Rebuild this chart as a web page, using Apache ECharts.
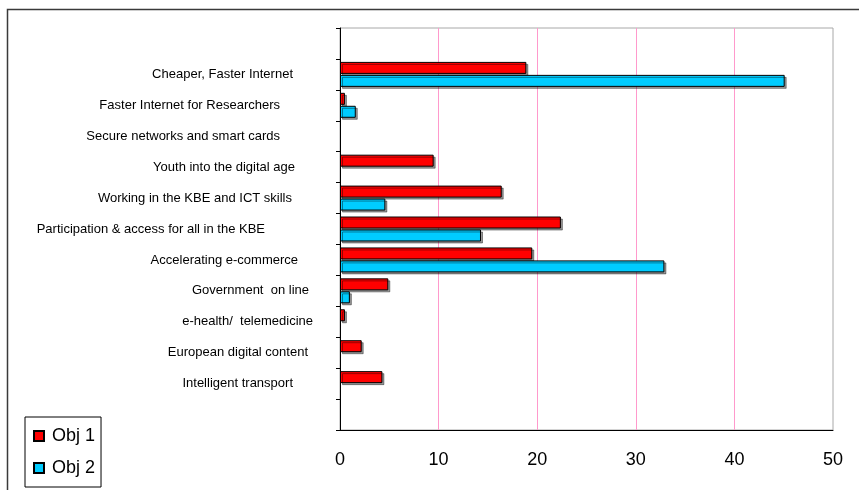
<!DOCTYPE html>
<html>
<head>
<meta charset="utf-8">
<script src="https://cdn.jsdelivr.net/npm/echarts@6/dist/echarts.min.js"></script>
<style>
  html, body { margin: 0; padding: 0; background: #fff; }
  #chart { width: 859px; height: 490px; }
</style>
</head>
<body>
<div id="chart"></div>
<script>
// Action lines (top to bottom); blank slots pad the first and last bands
const categories = [
  '',
  'Cheaper, Faster Internet',
  'Faster Internet for Researchers',
  'Secure networks and smart cards',
  'Youth into the digital age',
  'Working in the KBE and ICT skills',
  'Participation & access for all in the KBE',
  'Accelerating e-commerce',
  'Government  on line',
  'e-health/  telemedicine',
  'European digital content',
  'Intelligent transport',
  ''
];

const obj1 = [null, 18.9, 0.5, null, 9.5, 16.4, 22.4, 19.5, 4.9, 0.5, 2.2, 4.3, null];
const obj2 = [null, 45.1, 1.6, null, null, 4.6, 14.3, 32.9, 1.0, null, null, null, null];

const seriesNames = ['Obj 1', 'Obj 2'];
const xTicks = { min: 0, max: 50, step: 10 };

// Distance of each category label's right end from the axis line
const labelGaps = [0, 47, 60, 60, 45, 48, 75, 42, 31, 27, 32, 47, 0];

const FONT = 'Liberation Sans, Arial, sans-serif';

const rich = {};
labelGaps.forEach((g, i) => {
  rich['g' + i] = {
    fontFamily: FONT,
    fontSize: 13,
    color: '#000',
    padding: [0, g, 0, 0]
  };
});

const barStyle = (color) => ({
  color: color,
  borderColor: '#000',
  borderWidth: 1,
  shadowColor: 'rgba(0,0,0,0.4)',
  shadowBlur: 0,
  shadowOffsetX: 2,
  shadowOffsetY: 2
});

const chart = echarts.init(document.getElementById('chart'), null, { renderer: 'canvas' });

chart.setOption({
  animation: false,
  backgroundColor: '#fff',
  graphic: [{
    type: 'rect',
    shape: { x: 7.5, y: 9.5, width: 900, height: 520 },
    style: { fill: 'none', stroke: '#3a3a3a', lineWidth: 1.5 },
    z: -1
  }],
  grid: {
    left: 340,
    right: 26,
    top: 28,
    bottom: 60,
    outerBoundsMode: 'none',
    show: true,
    borderColor: '#a8a8a8',
    borderWidth: 1,
    backgroundColor: '#fff'
  },
  legend: {
    data: seriesNames,
    orient: 'vertical',
    left: 25,
    top: 417,
    itemWidth: 10,
    itemHeight: 10,
    itemGap: 14,
    padding: [10, 6, 10, 8],
    borderColor: '#000',
    borderWidth: 1,
    backgroundColor: '#fff',
    icon: 'rect',
    textStyle: { fontFamily: FONT, fontSize: 18, color: '#000', padding: [0, 0, 0, 3] }
  },
  xAxis: {
    type: 'value',
    min: xTicks.min,
    max: xTicks.max,
    interval: xTicks.step,
    axisLine: { show: true, lineStyle: { color: '#000', width: 1 } },
    axisTick: { show: false },
    axisLabel: { fontFamily: FONT, fontSize: 18, color: '#000', margin: 21 },
    splitLine: {
      show: true,
      showMinLine: false,
      showMaxLine: false,
      lineStyle: { color: '#ff99cc', width: 1 }
    }
  },
  yAxis: {
    type: 'category',
    inverse: true,
    data: categories,
    axisLine: { show: true, lineStyle: { color: '#000', width: 1 } },
    axisTick: { show: true, length: 4, lineStyle: { color: '#000' } },
    axisLabel: {
      margin: 0,
      interval: 0,
      formatter: (value, index) => value ? '{g' + index + '|' + value + '}' : '',
      rich: rich
    },
    splitLine: { show: false }
  },
  series: [
    {
      name: seriesNames[0],
      type: 'bar',
      data: obj1,
      barWidth: 12,
      barGap: '8%',
      itemStyle: barStyle('#ff0000')
    },
    {
      name: seriesNames[1],
      type: 'bar',
      data: obj2,
      barWidth: 12,
      barGap: '8%',
      itemStyle: barStyle('#00ccff')
    }
  ]
});
</script>
</body>
</html>
